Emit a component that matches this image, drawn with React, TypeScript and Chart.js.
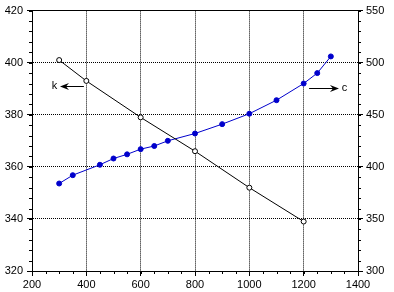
import React, { useEffect, useRef } from "react";
import { Chart, registerables } from "chart.js";

Chart.register(...registerables);

// k series (left axis, open black circles)
const kX = [300, 400, 600, 800, 1000, 1200];
const kValues = [401, 393, 379, 366, 352, 339];

// c series (right axis, filled blue circles)
const cX = [300, 350, 450, 500, 550, 600, 650, 700, 800, 900, 1000, 1100, 1200, 1250, 1300];
const cValues = [384, 392, 402, 408, 412, 417, 420, 425, 432, 441, 451, 464, 480, 490, 506];

// axis ranges / tick steps
const xRange = [200, 1400];
const xMajor = 200;
const xMinor = 50;
const kRange = [320, 420];
const kMajor = 20;
const kMinor = 4;
const cRange = [300, 550];
const cMajor = 50;
const cMinor = 10;

// annotation labels (data units)
const kLabel = { text: "k", x: 283, y: 391.2, tailX: 391, tipX: 303 };
const cLabel = { text: "c", x: 1340, y: 476, tailX: 1220, tipX: 1330 };

const FONT = "'Liberation Sans', Arial, sans-serif";
const BLUE = "#0000cc";

const plain = (v: any) => String(v);

const minorTicksPlugin = {
  id: "minorTicks",
  afterDraw(chart: any) {
    const ctx = chart.ctx;
    const { left, right, bottom } = chart.chartArea;
    ctx.save();
    ctx.strokeStyle = "#000";
    ctx.lineWidth = 1;
    const len = 3;
    const sx = chart.scales.x;
    for (let v = xRange[0]; v <= xRange[1] + 1e-9; v += xMinor) {
      const p = Math.round(sx.getPixelForValue(v)) + 0.5;
      ctx.beginPath();
      ctx.moveTo(p, bottom);
      ctx.lineTo(p, bottom + len);
      ctx.stroke();
    }
    const sk = chart.scales.yK;
    for (let v = kRange[0]; v <= kRange[1] + 1e-9; v += kMinor) {
      const p = Math.round(sk.getPixelForValue(v)) + 0.5;
      ctx.beginPath();
      ctx.moveTo(left - len, p);
      ctx.lineTo(left, p);
      ctx.stroke();
    }
    const sc = chart.scales.yC;
    for (let v = cRange[0]; v <= cRange[1] + 1e-9; v += cMinor) {
      const p = Math.round(sc.getPixelForValue(v)) + 0.5;
      ctx.beginPath();
      ctx.moveTo(right, p);
      ctx.lineTo(right + len, p);
      ctx.stroke();
    }
    ctx.restore();
  },
};

function drawArrow(ctx: any, tailX: number, tipX: number, y: number) {
  const dir = tipX > tailX ? 1 : -1;
  const headLen = 9;
  const headHalf = 3.5;
  const yy = Math.round(y) + 0.5;
  ctx.beginPath();
  ctx.moveTo(tailX, yy);
  ctx.lineTo(tipX - dir * 4, yy);
  ctx.stroke();
  ctx.beginPath();
  ctx.moveTo(tipX, yy);
  ctx.lineTo(tipX - dir * headLen, yy - headHalf);
  ctx.lineTo(tipX - dir * (headLen - 3), yy);
  ctx.lineTo(tipX - dir * headLen, yy + headHalf);
  ctx.closePath();
  ctx.fill();
}

const annotationPlugin = {
  id: "arrowLabels",
  afterDatasetsDraw(chart: any) {
    const ctx = chart.ctx;
    const sx = chart.scales.x;
    const sk = chart.scales.yK;
    const sc = chart.scales.yC;
    ctx.save();
    ctx.strokeStyle = "#000";
    ctx.fillStyle = "#000";
    ctx.lineWidth = 1;
    ctx.font = `11px ${FONT}`;
    ctx.textBaseline = "middle";

    const ky = sk.getPixelForValue(kLabel.y);
    drawArrow(ctx, sx.getPixelForValue(kLabel.tailX), sx.getPixelForValue(kLabel.tipX), ky);
    ctx.textAlign = "center";
    ctx.fillText(kLabel.text, sx.getPixelForValue(kLabel.x), ky);

    const cy = sc.getPixelForValue(cLabel.y);
    drawArrow(ctx, sx.getPixelForValue(cLabel.tailX), sx.getPixelForValue(cLabel.tipX), cy);
    ctx.textAlign = "left";
    ctx.fillText(cLabel.text, sx.getPixelForValue(cLabel.x), cy);
    ctx.restore();
  },
};

export default function App() {
  const ref = useRef<HTMLCanvasElement | null>(null);

  useEffect(() => {
    if (!ref.current) return;
    const chart = new Chart(ref.current, {
      type: "line",
      data: {
        datasets: [
          {
            label: "k",
            data: kX.map((x, i) => ({ x, y: kValues[i] })),
            yAxisID: "yK",
            borderColor: "#000",
            borderWidth: 1,
            pointRadius: 2.5,
            pointBorderWidth: 1,
            pointBackgroundColor: "#fff",
            pointBorderColor: "#000",
            tension: 0,
          },
          {
            label: "c",
            data: cX.map((x, i) => ({ x, y: cValues[i] })),
            yAxisID: "yC",
            borderColor: BLUE,
            borderWidth: 1,
            pointRadius: 2.5,
            pointBorderWidth: 1,
            pointBackgroundColor: BLUE,
            pointBorderColor: BLUE,
            tension: 0,
          },
        ],
      },
      options: {
        animation: false,
        responsive: false,
        events: [],
        layout: { padding: { top: 8, left: 0, right: 0, bottom: 0 } },
        plugins: {
          legend: { display: false },
          tooltip: { enabled: false },
        },
        scales: {
          x: {
            type: "linear",
            position: "bottom",
            min: xRange[0],
            max: xRange[1],
            afterFit: (s: any) => {
              s.height = 21;
            },
            ticks: {
              stepSize: xMajor,
              color: "#000",
              font: { family: FONT, size: 11 },
              padding: 2,
              maxRotation: 0,
              autoSkip: false,
              callback: plain,
            },
            grid: {
              color: "#000",
              lineWidth: 1,
              tickLength: 5,
              tickColor: "#000",
              tickBorderDash: [],
            },
            border: { display: true, color: "#000", width: 1, dash: [1, 1] },
          },
          xTop: {
            type: "linear",
            position: "top",
            min: xRange[0],
            max: xRange[1],
            afterFit: (s: any) => {
              s.height = 0;
            },
            ticks: { display: false },
            grid: { drawOnChartArea: false, drawTicks: false },
            border: { display: true, color: "#000", width: 1 },
          },
          yK: {
            type: "linear",
            position: "left",
            min: kRange[0],
            max: kRange[1],
            afterFit: (s: any) => {
              s.width = 32;
            },
            ticks: {
              stepSize: kMajor,
              color: "#000",
              font: { family: FONT, size: 11 },
              padding: 4,
              callback: plain,
            },
            grid: {
              color: "#000",
              lineWidth: 1,
              tickLength: 5,
              tickColor: "#000",
              tickBorderDash: [],
            },
            border: { display: true, color: "#000", width: 1, dash: [1, 1] },
          },
          yC: {
            type: "linear",
            position: "right",
            min: cRange[0],
            max: cRange[1],
            afterFit: (s: any) => {
              s.width = 36;
            },
            ticks: {
              stepSize: cMajor,
              color: "#000",
              font: { family: FONT, size: 11 },
              padding: 3,
              callback: plain,
            },
            grid: {
              drawOnChartArea: false,
              tickLength: 5,
              tickColor: "#000",
              tickBorderDash: [],
            },
            border: { display: true, color: "#000", width: 1 },
          },
        },
      } as any,
      plugins: [minorTicksPlugin, annotationPlugin],
    });
    return () => chart.destroy();
  }, []);

  return (
    <div
      style={{
        position: "fixed",
        left: 0,
        top: 0,
        width: 394,
        height: 292,
        background: "#fff",
      }}
    >
      <canvas ref={ref} width={394} height={292} style={{ display: "block" }} />
    </div>
  );
}
